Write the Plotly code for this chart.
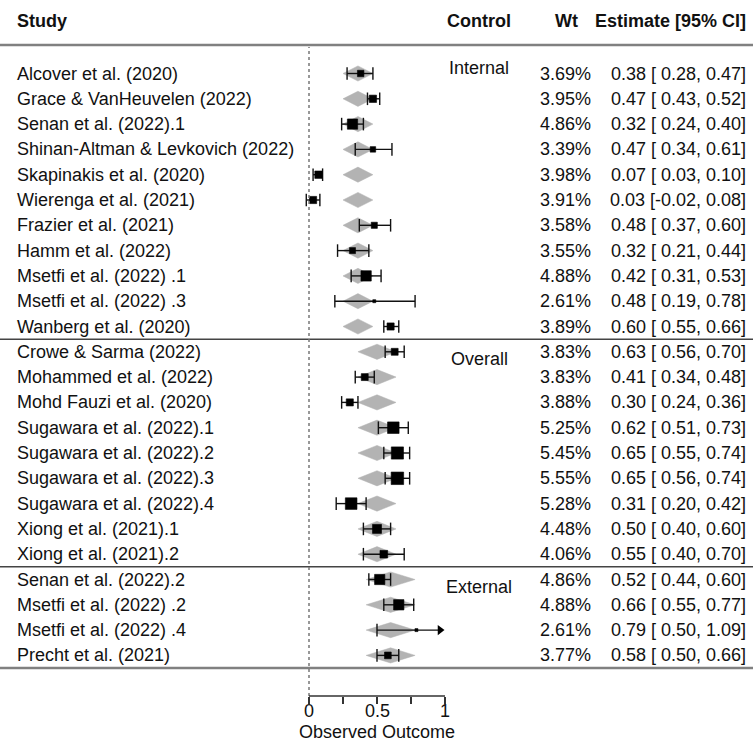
import plotly.graph_objects as go

# ---------------- data ----------------
studies = [
    "Alcover et al. (2020)", "Grace & VanHeuvelen (2022)", "Senan et al. (2022).1",
    "Shinan-Altman & Levkovich (2022)", "Skapinakis et al. (2020)", "Wierenga et al. (2021)",
    "Frazier et al. (2021)", "Hamm et al. (2022)", "Msetfi et al. (2022) .1",
    "Msetfi et al. (2022) .3", "Wanberg et al. (2020)",
    "Crowe & Sarma (2022)", "Mohammed et al. (2022)", "Mohd Fauzi et al. (2020)",
    "Sugawara et al. (2022).1", "Sugawara et al. (2022).2", "Sugawara et al. (2022).3",
    "Sugawara et al. (2022).4", "Xiong et al. (2021).1", "Xiong et al. (2021).2",
    "Senan et al. (2022).2", "Msetfi et al. (2022) .2", "Msetfi et al. (2022) .4",
    "Precht et al. (2021)",
]
control = ["Internal"] * 11 + ["Overall"] * 9 + ["External"] * 4
weights = [3.69, 3.95, 4.86, 3.39, 3.98, 3.91, 3.58, 3.55, 4.88, 2.61, 3.89,
           3.83, 3.83, 3.88, 5.25, 5.45, 5.55, 5.28, 4.48, 4.06,
           4.86, 4.88, 2.61, 3.77]
est = [0.38, 0.47, 0.32, 0.47, 0.07, 0.03, 0.48, 0.32, 0.42, 0.48, 0.60,
       0.63, 0.41, 0.30, 0.62, 0.65, 0.65, 0.31, 0.50, 0.55,
       0.52, 0.66, 0.79, 0.58]
ci_lo = [0.28, 0.43, 0.24, 0.34, 0.03, -0.02, 0.37, 0.21, 0.31, 0.19, 0.55,
         0.56, 0.34, 0.24, 0.51, 0.55, 0.56, 0.20, 0.40, 0.40,
         0.44, 0.55, 0.50, 0.50]
ci_hi = [0.47, 0.52, 0.40, 0.61, 0.10, 0.08, 0.60, 0.44, 0.53, 0.78, 0.66,
         0.70, 0.48, 0.36, 0.73, 0.74, 0.74, 0.42, 0.60, 0.70,
         0.60, 0.77, 1.09, 0.66]

group_names = ["Internal", "Overall", "External"]
group_pred = [0.36, 0.50, 0.60]
group_lo = [0.25, 0.36, 0.42]
group_hi = [0.47, 0.64, 0.78]

tick_vals = [0, 0.25, 0.5, 0.75, 1]
tick_text = ["0", "", "0.5", "", "1"]
x_title = "Observed Outcome"

# ---------------- layout geometry ----------------
W, H = 753, 742
PX0, PX_PER_UNIT = 309.0, 136.0       # x pixel of 0, pixels per unit
ROW0_PX, ROW_PX = 73.5, 25.3          # y pixel of first row, pixels per row
AXIS_PX = 696.0
X_LIM_HI = 1.0

xr = [-PX0 / PX_PER_UNIT, (W - PX0) / PX_PER_UNIT]
yr = [(H - ROW0_PX) / ROW_PX, -ROW0_PX / ROW_PX]

def px_to_row(p):
    return (p - ROW0_PX) / ROW_PX

FONT = "Liberation Sans, Arial, sans-serif"
FS = 18
INK = "#111111"
n = len(studies)
rows = list(range(n))

fig = go.Figure()

# predicted diamonds (grey)
dx, dy = [], []
h = 0.3
for r, c in zip(rows, control):
    g = group_names.index(c)
    dx += [group_lo[g], group_pred[g], group_hi[g], group_pred[g], group_lo[g], None]
    dy += [r, r - h, r, r + h, r, None]
fig.add_trace(go.Scatter(x=dx, y=dy, mode="lines", fill="toself",
                         fillcolor="#b3b3b3", line=dict(color="#b3b3b3", width=0.5),
                         hoverinfo="skip"))

# CI lines
lx, ly = [], []
cap_x, cap_y = [], []
arr_x, arr_y = [], []
for r, lo, hi in zip(rows, ci_lo, ci_hi):
    hi_d = hi
    if hi > X_LIM_HI:
        hi_d = X_LIM_HI - 5.0 / PX_PER_UNIT
        arr_x.append(hi_d)
        arr_y.append(r)
    else:
        cap_x.append(hi)
        cap_y.append(r)
    cap_x.append(lo)
    cap_y.append(r)
    lx += [lo, hi_d, None]
    ly += [r, r, None]
fig.add_trace(go.Scatter(x=lx, y=ly, mode="lines",
                         line=dict(color=INK, width=1.4), hoverinfo="skip"))
fig.add_trace(go.Scatter(x=cap_x, y=cap_y, mode="markers", cliponaxis=False,
                         marker=dict(symbol="line-ns-open", size=9, color=INK,
                                     line=dict(color=INK, width=1.4)),
                         hoverinfo="skip"))
fig.add_trace(go.Scatter(x=arr_x, y=arr_y, mode="markers", cliponaxis=False,
                         marker=dict(symbol="triangle-right", size=9, color="#000000",
                                     line=dict(width=0)),
                         hoverinfo="skip"))

# squares sized by weight
wmin, wmax = min(weights), max(weights)
sizes = [3 + (w - wmin) / (wmax - wmin) * 9.5 for w in weights]
fig.add_trace(go.Scatter(x=est, y=rows, mode="markers", cliponaxis=False,
                         marker=dict(symbol="square", size=sizes, color="#000000",
                                     opacity=1, line=dict(width=0.6, color="#000000")),
                         hoverinfo="skip"))

# ---------------- text ----------------
ann = []
def txt(x_px, y, s, anchor="left", bold=False):
    ann.append(dict(x=x_px / W, xref="paper", y=y, yref="y", text=f"<b>{s}</b>" if bold else s,
                    showarrow=False, xanchor=anchor, yanchor="middle",
                    font=dict(family=FONT, size=FS, color=INK)))

hdr = px_to_row(21)
txt(15, hdr, "Study", "left", True)
txt(479, hdr, "Control", "center", True)
txt(566, hdr, "Wt", "center", True)
txt(748, hdr, "Estimate [95% CI]", "right", True)

for r, s, w, e, lo, hi in zip(rows, studies, weights, est, ci_lo, ci_hi):
    txt(15, r, s, "left")
    txt(593, r, f"{w:.2f}%", "right")
    lo_s = f"{lo:.2f}" if lo < 0 else f" {lo:.2f}"
    txt(748, r, f"{e:.2f} [{lo_s}, {hi:.2f}]", "right")

group_label_offset = {"Internal": -0.2, "Overall": 0.3, "External": 0.3}
for g in group_names:
    first = control.index(g)
    txt(479, first + group_label_offset[g], g, "center")

# tick labels and axis title
for tv, tt in zip(tick_vals, tick_text):
    if tt:
        ann.append(dict(x=tv, xref="x", y=1 - 711 / H, yref="paper", text=tt,
                        showarrow=False, xanchor="center", yanchor="middle", borderpad=0,
                        font=dict(family=FONT, size=FS, color=INK)))
ann.append(dict(x=(tick_vals[0] + tick_vals[-1]) / 2, xref="x", y=1 - 732 / H, yref="paper",
                text=x_title, showarrow=False, xanchor="center", yanchor="middle", borderpad=0,
                font=dict(family=FONT, size=FS, color=INK)))

# ---------------- lines ----------------
shapes = []
shapes.append(dict(type="line", xref="paper", yref="y", x0=0, x1=1,
                   y0=px_to_row(45), y1=px_to_row(45), line=dict(color="#808080", width=2.5)))
bounds = []
for g in group_names[:-1]:
    last = len(control) - 1 - control[::-1].index(g)
    bounds.append(last + 0.5)
for b in bounds:
    shapes.append(dict(type="line", xref="paper", yref="y", x0=0, x1=1, y0=b, y1=b,
                       line=dict(color="#444444", width=1.5)))
shapes.append(dict(type="line", xref="paper", yref="y", x0=0, x1=1,
                   y0=n - 0.5, y1=n - 0.5, line=dict(color="#808080", width=2.5)))
# reference line at 0
shapes.append(dict(type="line", xref="x", yref="paper", x0=0, x1=0,
                   y0=1 - AXIS_PX / H, y1=1 - 47 / H,
                   line=dict(color="#777777", width=1.5, dash="dot")))
# axis line between axis limits
shapes.append(dict(type="line", xref="x", yref="paper", x0=tick_vals[0], x1=tick_vals[-1],
                   y0=1 - AXIS_PX / H, y1=1 - AXIS_PX / H,
                   line=dict(color="#333333", width=1.5)))

fig.update_layout(
    width=W, height=H, margin=dict(l=0, r=0, t=0, b=0),
    paper_bgcolor="white", plot_bgcolor="white", showlegend=False,
    annotations=ann, shapes=shapes,
    xaxis=dict(range=xr, domain=[0, 1], anchor="free", position=1 - AXIS_PX / H,
               showgrid=False, zeroline=False, showline=False,
               tickvals=tick_vals, ticktext=tick_text, ticks="outside",
               ticklen=7, tickwidth=1.5, tickcolor="#333333", showticklabels=False),
    yaxis=dict(range=yr, domain=[0, 1], visible=False, showgrid=False, zeroline=False),
)

fig.write_html("out.html", config={"displayModeBar": False},
               post_script="document.body.style.margin='0px';")
